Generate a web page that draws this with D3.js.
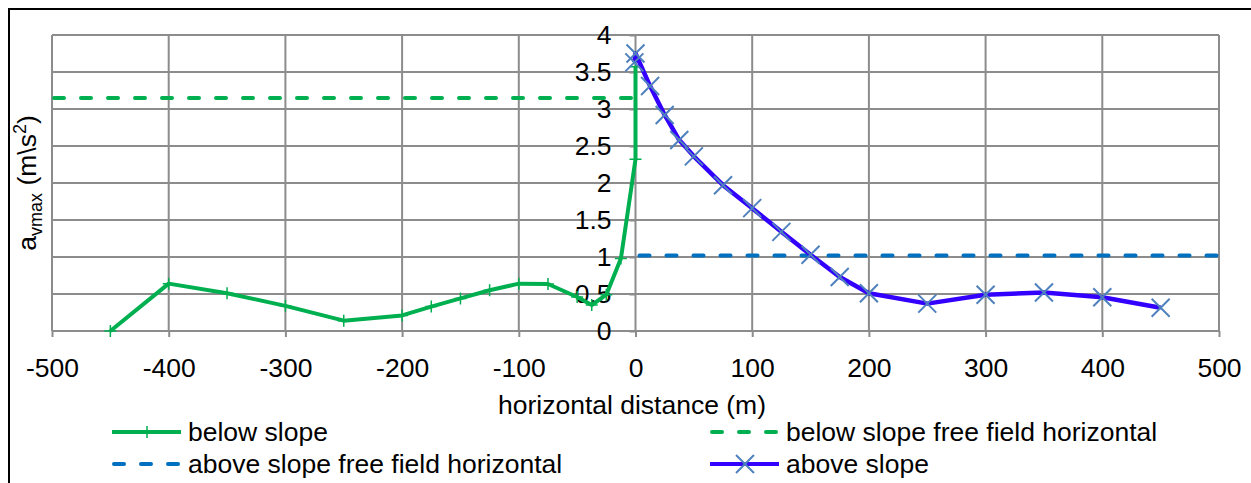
<!DOCTYPE html>
<html>
<head>
<meta charset="utf-8">
<script src="https://cdn.jsdelivr.net/npm/d3@7"></script>
<style>
  body { margin: 0; background: #fff; }
  text { font-family: "Liberation Sans", Arial, sans-serif; fill: #000; }
</style>
</head>
<body>
<div id="chart"></div>
<script>
// data
var belowX = [-450, -400, -350, -300, -250, -200, -175, -150, -125, -100, -75, -50, -37.5, -25, -12.5, 0, 0];
var belowY = [0, 0.64, 0.51, 0.34, 0.14, 0.21, 0.33, 0.44, 0.55, 0.64, 0.635, 0.46, 0.35, 0.49, 0.98, 2.32, 3.57];
var aboveX = [-1, 0, 12.5, 25, 37.5, 50, 75, 100, 125, 150, 175, 200, 250, 300, 350, 400, 450];
var aboveY = [3.63, 3.75, 3.31, 2.92, 2.58, 2.36, 1.97, 1.66, 1.34, 1.03, 0.73, 0.51, 0.37, 0.49, 0.52, 0.455, 0.315];
var belowFreeX = [-500, 0];
var belowFreeY = [3.15, 3.15];
var aboveFreeX = [0, 500];
var aboveFreeY = [1.02, 1.02];
var xTicks = [-500, -400, -300, -200, -100, 0, 100, 200, 300, 400, 500];
var yTicks = [0, 0.5, 1, 1.5, 2, 2.5, 3, 3.5, 4];

var svgWidth = 1251;
var svgHeight = 483;
var gridColor = "#8c8c8c";
var fontSize = "26.5px";

var svg = d3.select("#chart")
  .append("svg")
  .attr("width", svgWidth)
  .attr("height", svgHeight);

// outer frame (runs off the right and bottom)
svg.append("rect")
  .attr("x", 9).attr("y", 9)
  .attr("width", 1400).attr("height", 600)
  .attr("fill", "#fff")
  .attr("stroke", "#000")
  .attr("stroke-width", 2);

var x = d3.scaleLinear().domain([-500, 500]).range([52, 1219]);
var y = d3.scaleLinear().domain([0, 4]).range([331, 35]);

// grid
svg.append("g").selectAll("line")
  .data(xTicks).enter().append("line")
  .attr("x1", d => x(d)).attr("x2", d => x(d))
  .attr("y1", y(4)).attr("y2", y(0))
  .attr("stroke", gridColor).attr("stroke-width", 2);

svg.append("g").selectAll("line")
  .data(yTicks).enter().append("line")
  .attr("x1", x(-500)).attr("x2", x(500))
  .attr("y1", d => y(d)).attr("y2", d => y(d))
  .attr("stroke", gridColor).attr("stroke-width", 2);

// axes
var xAxis = d3.axisBottom(x).tickValues(xTicks).tickSize(6).tickPadding(21).tickFormat(d => d);
var yAxis = d3.axisLeft(y).tickValues(yTicks).tickSize(6).tickPadding(18).tickFormat(d => d);

var gx = svg.append("g").attr("transform", `translate(0, ${y(0)})`).call(xAxis);
var gy = svg.append("g").attr("transform", `translate(${x(0)}, 0)`).call(yAxis);

[gx, gy].forEach(function(g) {
  g.select(".domain").remove();
  g.selectAll(".tick line").attr("stroke", gridColor).attr("stroke-width", 2);
  g.selectAll(".tick text")
    .style("font-family", '"Liberation Sans", Arial, sans-serif')
    .style("font-size", fontSize)
    .attr("fill", "#000");
});

// axis titles
svg.append("text")
  .attr("x", 632)
  .attr("y", 414)
  .attr("text-anchor", "middle")
  .style("font-size", fontSize)
  .text("horizontal distance (m)");

var yTitle = svg.append("text")
  .attr("transform", "translate(36, 183) rotate(-90)")
  .attr("text-anchor", "middle")
  .style("font-size", fontSize);
yTitle.append("tspan").text("a");
yTitle.append("tspan").attr("dy", 6).style("font-size", "18px").text("vmax");
yTitle.append("tspan").attr("dy", -6).text(" (m\u005Cs");
yTitle.append("tspan").attr("dy", -10).style("font-size", "18px").text("2");
yTitle.append("tspan").attr("dy", 10).text(")");

// series
var green = "#00b050";
var dashBlue = "#0070c0";
var violet = "#3300ff";
var xColor = "#4f81bd";

function pts(xs, ys) {
  return xs.map((v, i) => [v, ys[i]]);
}

var line = d3.line().x(d => x(d[0])).y(d => y(d[1]));

svg.append("path")
  .datum(pts(belowFreeX, belowFreeY))
  .attr("d", line)
  .attr("fill", "none")
  .attr("stroke", green)
  .attr("stroke-width", 4)
  .attr("stroke-dasharray", "10,17")
  .attr("stroke-linecap", "round")
  .attr("transform", "translate(2,0)");

svg.append("path")
  .datum(pts(aboveFreeX, aboveFreeY))
  .attr("d", line)
  .attr("fill", "none")
  .attr("stroke", dashBlue)
  .attr("stroke-width", 4)
  .attr("stroke-dasharray", "10,17")
  .attr("stroke-linecap", "round")
  .attr("transform", "translate(4,0)");

svg.append("path")
  .datum(pts(belowX, belowY))
  .attr("d", line)
  .attr("fill", "none")
  .attr("stroke", green)
  .attr("stroke-width", 4)
  .attr("stroke-linejoin", "round");

svg.append("g").selectAll("path")
  .data(pts(belowX, belowY)).enter().append("path")
  .attr("d", d => `M${x(d[0]) - 6},${y(d[1])}h12M${x(d[0])},${y(d[1]) - 6}v12`)
  .attr("stroke", green)
  .attr("stroke-width", 1.5);

svg.append("path")
  .datum(pts(aboveX, aboveY))
  .attr("d", line)
  .attr("fill", "none")
  .attr("stroke", violet)
  .attr("stroke-width", 4.5)
  .attr("stroke-linejoin", "round");

svg.append("g").selectAll("path")
  .data(pts(aboveX, aboveY)).enter().append("path")
  .attr("d", d => `M${x(d[0]) - 9},${y(d[1]) - 9}l18,18M${x(d[0]) - 9},${y(d[1]) + 9}l18,-18`)
  .attr("stroke", xColor)
  .attr("stroke-width", 2);

// legend
var legend = [
  { label: "below slope", color: green, dash: null, marker: "plus", lx: 112, ly: 432 },
  { label: "below slope free field horizontal", color: green, dash: "10,17", marker: null, lx: 710, ly: 432 },
  { label: "above slope free field horizontal", color: dashBlue, dash: "10,17", marker: null, lx: 112, ly: 464 },
  { label: "above slope", color: violet, dash: null, marker: "cross", lx: 710, ly: 464 }
];

var lg = svg.append("g").selectAll("g")
  .data(legend).enter().append("g")
  .attr("transform", d => `translate(${d.lx}, ${d.ly})`);

lg.append("line")
  .attr("x1", d => d.dash ? 2 : 0).attr("x2", 69)
  .attr("y1", 0).attr("y2", 0)
  .attr("stroke", d => d.color)
  .attr("stroke-width", 4)
  .attr("stroke-dasharray", d => d.dash)
  .attr("stroke-linecap", d => d.dash ? "round" : "butt");

lg.filter(d => d.marker === "plus").append("path")
  .attr("d", "M29,0h12M35,-6v12")
  .attr("stroke", green)
  .attr("stroke-width", 1.5);

lg.filter(d => d.marker === "cross").append("path")
  .attr("d", "M26,-9l18,18M26,9l18,-18")
  .attr("stroke", xColor)
  .attr("stroke-width", 2);

lg.append("text")
  .attr("x", 76)
  .attr("y", 9)
  .style("font-size", fontSize)
  .text(d => d.label);
</script>
</body>
</html>
